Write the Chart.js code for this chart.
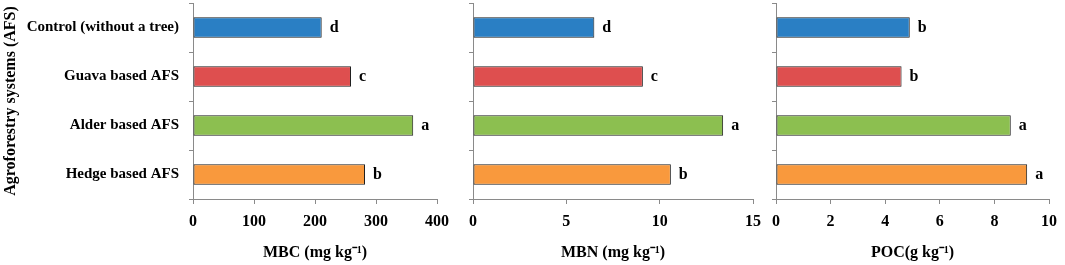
<!DOCTYPE html>
<html>
<head>
<meta charset="utf-8">
<script src="https://cdn.jsdelivr.net/npm/chart.js@4.4.1/dist/chart.umd.min.js"></script>
<style>
    html, body { margin: 0; padding: 0; background: #fff; }
    #wrap { position: relative; width: 1065px; height: 265px; overflow: hidden; }
    .panel { position: absolute; top: 0; height: 265px; }
</style>
</head>
<body>
<div id="wrap">
    <div class="panel" style="left:0;width:460px"><canvas id="mbcChart"></canvas></div>
    <div class="panel" style="left:450px;width:320px"><canvas id="mbnChart"></canvas></div>
    <div class="panel" style="left:760px;width:305px"><canvas id="pocChart"></canvas></div>
</div>
<script>
// Data
const categories = ['Control (without a tree)', 'Guava based AFS', 'Alder based AFS', 'Hedge based AFS'];
const barColors = ['#2a7fc4', '#de4f4f', '#8cbf50', '#f9993d'];

const mbcValues = [211, 259, 361, 282];
const mbcLetters = ['d', 'c', 'a', 'b'];
const mbcTicks = [0, 100, 200, 300, 400];

const mbnValues = [6.5, 9.1, 13.4, 10.6];
const mbnLetters = ['d', 'c', 'a', 'b'];
const mbnTicks = [0, 5, 10, 15];

const pocValues = [4.9, 4.6, 8.6, 9.2];
const pocLetters = ['b', 'b', 'a', 'a'];
const pocTicks = [0, 2, 4, 6, 8, 10];

const serif = "'Liberation Serif', 'Times New Roman', serif";
const axisGray = '#8a8a8a';

// letters written to the right of each bar
const letterPlugin = {
    id: 'letters',
    afterDatasetsDraw(chart, args, opts) {
        const ctx = chart.ctx;
        const meta = chart.getDatasetMeta(0);
        ctx.save();
        ctx.font = `bold 16px ${serif}`;
        ctx.fillStyle = '#000';
        ctx.textAlign = 'left';
        ctx.textBaseline = 'middle';
        meta.data.forEach((bar, i) => {
            ctx.fillText(opts.labels[i], bar.x + 8, bar.y);
        });
        ctx.restore();
    }
};

function makePanel(id, values, letters, ticks, xTitle, opts) {
    const ctx = document.getElementById(id).getContext('2d');
    return new Chart(ctx, {
        type: 'bar',
        data: {
            labels: categories,
            datasets: [{
                data: values,
                backgroundColor: barColors,
                borderColor: '#1e1e1e',
                borderWidth: 1,
                borderSkipped: false,
                barPercentage: 0.42,
                categoryPercentage: 1
            }]
        },
        plugins: [letterPlugin],
        options: {
            indexAxis: 'y',
            responsive: true,
            maintainAspectRatio: false,
            animation: false,
            layout: { padding: { top: 3, right: opts.right, left: 0, bottom: 0 } },
            plugins: {
                legend: { display: false },
                tooltip: { enabled: false },
                letters: { labels: letters }
            },
            scales: {
                x: {
                    min: 0,
                    max: ticks[ticks.length - 1],
                    afterBuildTicks: (axis) => { axis.ticks = ticks.map(v => ({ value: v })); },
                    afterFit: (axis) => { axis.height = 66; },
                    border: { color: axisGray, width: 1 },
                    grid: { drawOnChartArea: false, drawTicks: true, tickLength: 5, color: axisGray },
                    ticks: { color: '#000', padding: 8, font: { family: serif, size: 16, weight: 'bold' } },
                    title: {
                        display: true,
                        text: xTitle,
                        color: '#000',
                        padding: { top: 0, bottom: 3 },
                        font: { family: serif, size: 16, weight: 'bold' }
                    }
                },
                y: {
                    afterFit: (axis) => {
                        axis.width = opts.yWidth;
                        axis.paddingTop = 0;
                        axis.paddingBottom = 0;
                    },
                    border: { color: axisGray, width: 1 },
                    grid: { drawOnChartArea: false, drawTicks: true, tickLength: 4, color: axisGray },
                    ticks: {
                        display: opts.showLabels,
                        color: '#000',
                        padding: 10,
                        font: { family: serif, size: 15, weight: 'bold' }
                    },
                    title: {
                        display: opts.showLabels,
                        text: 'Agroforestry systems (AFS)',
                        color: '#000',
                        padding: { top: 1, bottom: 0 },
                        font: { family: serif, size: 16, weight: 'bold' }
                    }
                }
            }
        }
    });
}

makePanel('mbcChart', mbcValues, mbcLetters, mbcTicks, 'MBC (mg kg⁻¹)', { yWidth: 193, right: 23, showLabels: true });
makePanel('mbnChart', mbnValues, mbnLetters, mbnTicks, 'MBN (mg kg⁻¹)', { yWidth: 23, right: 17, showLabels: false });
makePanel('pocChart', pocValues, pocLetters, pocTicks, 'POC(g kg⁻¹)', { yWidth: 16, right: 10, showLabels: false });
</script>
</body>
</html>
